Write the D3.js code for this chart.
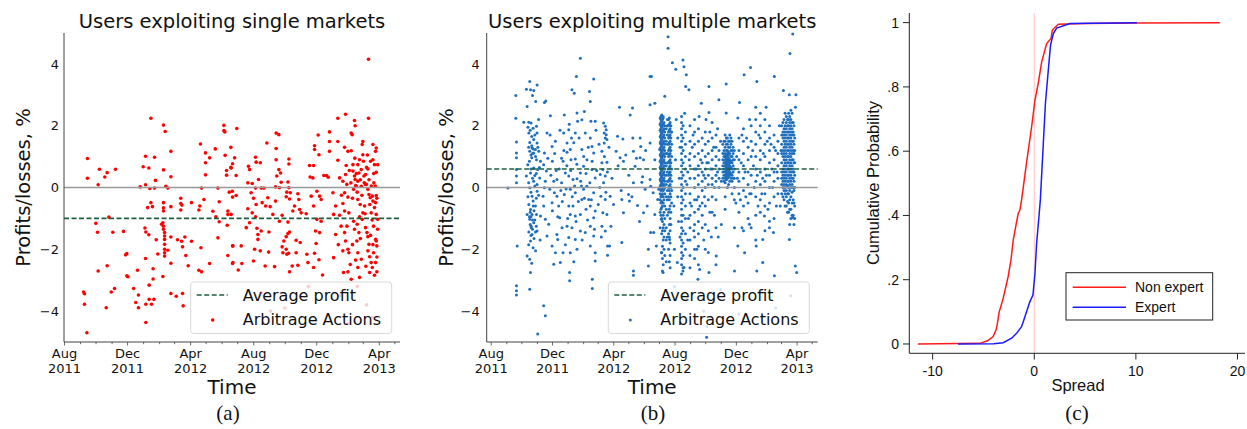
<!DOCTYPE html>
<html>
<head>
<meta charset="utf-8">
<script src="https://cdn.jsdelivr.net/npm/d3@7"></script>
<style>
  body { margin: 0; background: #fff; }
  text { fill: #111; }
</style>
</head>
<body>
<svg id="chart" width="1247" height="429"></svg>
<script>
// time is stored as months (30.44 days) after 1 Aug 2011
const startDate = new Date(2011, 7, 1);

const singlePoints = [
  [1.46,0.94],[1.46,0.30],[2.14,0.09],[2.22,0.59],[2.56,0.34],[2.71,0.48],[3.24,0.59],
  [1.99,-1.16],[2.10,-1.45],[2.82,-0.96],[3.07,-1.45],[3.75,-1.42],[2.14,-2.70],[2.71,-2.53],
  [1.21,-3.38],[1.27,-3.44],[1.27,-3.78],[1.42,-4.70],[2.65,-3.89],[2.97,-3.38],[3.18,-3.27],
  [3.88,-2.18],[3.96,-2.14],[3.96,-2.86],[4.03,-2.89],[4.39,-3.27],[4.64,-2.68],[4.70,-3.48],
  [4.53,-3.72],[4.70,-3.89],[5.17,-4.37],[5.17,-3.78],[5.38,-3.62],[5.53,-3.78],[5.68,-3.62],
  [5.38,-3.16],[5.63,-2.96],[5.63,-2.63],[5.15,-2.30],[5.93,-2.15],[6.25,-2.88],[6.76,-2.45],
  [6.76,-3.43],[7.10,-3.52],[7.50,-3.43],[7.54,-3.83],
  [5.11,-1.31],[5.17,-1.44],[5.36,-1.53],[5.83,-1.69],[6.17,-1.19],[6.25,-1.14],[6.29,-1.25],
  [6.29,-1.35],[6.36,-1.46],[6.36,-1.57],[6.36,-1.68],[6.36,-1.84],[6.36,-2.00],[6.36,-2.11],
  [6.36,-2.22],[6.57,-2.03],[6.76,-1.60],[7.18,-1.69],[7.44,-1.74],[7.50,-1.92],[7.65,-1.60],
  [7.71,-2.20],[7.86,-2.53],[8.07,-1.74],[8.67,-1.95],[8.54,-2.68],[8.71,-2.73],[9.22,-2.46],
  [9.75,-1.63],[9.83,-1.11],[10.34,-1.22],[10.38,-2.20],[10.68,-1.89],[10.68,-2.46],
  [5.49,2.24],[6.29,2.02],[6.40,1.81],[6.76,1.17],[5.15,1.01],[5.72,0.98],[5.00,0.67],[5.36,0.63],
  [6.29,0.57],[6.76,0.35],[5.78,0.23],[5.15,0.09],[4.81,0.02],[5.42,-0.03],[5.72,-0.02],[6.44,0.04],
  [6.57,-0.02],[5.49,-0.49],[5.28,-0.65],[5.59,-0.62],[6.29,-0.49],[6.29,-0.66],[6.29,-0.76],
  [6.76,-0.62],[7.39,-0.35],[7.39,-0.52],[7.46,-0.57],[7.39,-0.73],[8.07,-0.49],[8.60,-0.60],
  [8.54,-0.73],[8.86,-0.39],[9.43,-0.77],[9.62,-0.95],[9.83,-0.46],[8.64,1.41],[8.96,1.12],
  [9.22,0.96],[9.58,1.25],[8.96,0.80],[8.96,0.41],[10.21,1.04],[10.13,2.01],[10.13,1.84],
  [10.19,1.80],[10.30,0.55],[10.30,0.40],[10.57,1.30],[10.57,0.65],[10.68,0.77],[8.71,-0.02],
  [9.75,-0.02],[10.47,-0.15],[10.68,-0.31],[10.38,-0.76],[10.38,-0.87],
  [10.95,1.91],[10.81,0.96],[10.59,0.63],[10.91,0.39],[10.66,-0.12],[10.91,-0.26],[10.59,-0.87],
  [10.70,-1.89],[11.23,-1.89],[10.70,-2.43],[11.27,-2.46],[11.04,-2.67],[11.69,0.69],[11.76,0.58],
  [12.14,0.98],[12.44,0.80],[12.86,1.44],[12.18,0.82],[11.65,0.15],[11.93,0.13],[12.33,0.26],
  [12.14,-0.02],[12.50,-0.02],[12.67,-0.02],[11.86,-0.17],[12.01,-0.35],[12.18,-0.55],[12.56,-0.49],
  [12.78,-0.60],[12.92,-0.33],[13.07,-0.62],[13.24,-0.87],[13.41,-0.44],[11.65,-0.69],[11.93,-0.82],
  [12.14,-0.95],[11.76,-1.14],[12.23,-1.32],[12.29,-1.52],[12.29,-1.68],[12.50,-1.41],[12.99,-1.44],
  [11.55,-1.30],[12.08,-2.00],[12.01,-2.38],[12.44,-2.05],[12.97,-2.09],[12.75,-2.54],[13.35,-2.56],
  [13.45,1.76],[13.62,1.71],[13.45,1.26],[13.45,0.90],[13.62,0.58],[13.73,0.47],[13.49,0.37],
  [13.77,0.17],[13.41,0.02],[13.66,-0.01],[14.26,0.92],[14.26,0.76],[14.20,0.18],[14.26,-0.01],
  [14.13,-0.15],[14.35,-0.17],[14.09,-0.30],[14.30,-0.37],[14.83,-0.20],[14.89,-0.39],[14.62,-0.60],
  [14.94,-0.71],[14.51,-0.76],[15.04,-0.82],[13.83,-0.90],[13.66,-1.09],[14.20,-1.12],[14.30,-1.44],
  [14.20,-1.49],[14.09,-1.59],[13.94,-1.73],[13.83,-1.92],[13.88,-2.11],[14.09,-2.00],[14.13,-2.16],
  [14.24,-2.13],[14.72,-1.71],[14.98,-1.78],[14.72,-2.11],[14.47,-2.54],[14.83,-2.52],[14.30,-2.73],
  [15.36,-0.85],[15.40,-2.16],[15.57,0.71],[15.83,0.71],[15.61,0.34],[15.78,0.31],[15.89,1.35],
  [15.89,1.23],[16.12,1.70],[16.17,1.06],[16.84,1.80],[16.84,1.49],[16.84,1.17],[16.48,0.39],
  [16.65,0.39],[16.76,0.33],[15.68,-0.28],[16.04,-0.12],[16.21,-0.28],[16.31,-0.39],[15.83,-0.60],
  [16.04,-1.03],[16.31,-1.09],[15.95,-1.41],[16.21,-1.46],[15.99,-1.81],[15.89,-2.13],[15.47,-2.43],
  [16.17,-2.34],[15.83,-2.59],[16.40,-2.83],[17.06,-0.17],[17.23,-0.60],[17.10,-0.87],[17.23,-1.52],
  [17.10,-2.27],[17.37,2.24],[17.86,2.37],[17.37,1.49],[17.37,0.88],[17.80,1.30],[17.90,0.71],
  [18.01,1.17],[17.48,0.31],[17.69,0.20],[17.86,0.42],[17.94,0.10],[17.80,-0.17],[18.01,-0.31],
  [17.69,-0.52],[17.80,-0.76],[18.07,-0.82],[17.48,-0.90],[17.58,-1.25],[17.80,-1.46],[17.86,-1.73],
  [18.01,-2.00],[17.69,-2.05],[18.07,-2.11],[18.16,-2.49],[17.73,-2.75],[18.01,-2.73],[18.22,-2.97],
  [18.22,1.76],[18.28,1.71],[18.22,1.19],[18.33,0.74],[18.43,2.17],[18.47,2.00],[18.33,0.53],
  [18.43,0.37],[18.47,0.26],[18.50,0.06],[18.37,-0.06],[18.54,0.04],[18.64,0.20],[18.71,0.47],
  [18.64,0.74],[18.75,0.90],[18.86,0.58],[18.92,1.39],[18.96,1.49],[18.96,1.06],[19.03,0.37],
  [19.13,0.42],[19.28,0.60],[19.18,0.10],[19.28,-0.06],[19.35,-0.23],[19.43,-0.33],[19.56,-0.28],
  [19.60,-0.44],[19.77,-0.49],[19.81,-0.26],[19.60,0.90],[19.77,1.17],[19.81,1.28],[19.60,1.39],
  [19.32,2.24],[19.32,4.15],[19.70,0.74],[19.81,0.49],[18.64,-0.39],[18.79,-0.55],[18.96,-0.82],
  [18.75,-0.95],[18.60,-1.19],[18.71,-1.46],[18.58,-1.73],[18.64,-2.11],[18.86,-2.32],[18.64,-2.59],
  [18.75,-2.91],[18.37,-1.09],[18.43,-1.35],[19.13,-1.30],[19.22,-1.46],[19.28,-1.59],[19.35,-1.84],
  [19.28,-2.05],[19.39,-2.24],[19.49,-2.43],[19.56,-2.59],[19.39,-2.75],[19.77,-1.68],[19.81,-1.73],
  [19.85,-1.89],[19.64,-2.11],[19.77,-2.43],[19.85,-2.73],[19.70,-2.84],[19.13,0.10],[18.86,0.04],
  [19.66,0.15],[19.90,0.74],[19.90,-1.03],[19.64,-1.25],[19.81,-0.87],[19.49,-0.82],[19.07,-0.60],
  [18.92,-1.03],
  [18.10,0.55],[18.20,0.15],[18.30,-0.35],[18.45,0.95],[18.55,0.45],[18.60,-0.15],[18.80,0.25],
  [18.90,-0.25],[19.00,0.85],[19.05,0.15],[19.10,-0.85],[19.20,0.65],[19.25,1.05],[19.35,0.25],
  [19.40,-0.55],[19.45,0.85],[19.50,0.05],[19.55,-1.05],[19.65,0.45],[19.70,-0.65],[19.75,0.05],
  [19.85,-0.35],[19.90,-1.35],[19.85,-2.25],[19.60,-1.85],[19.45,-1.55],[19.15,-2.55],[18.80,-1.65],
  [18.50,-2.35],[18.30,-1.85],[17.95,-1.25],[17.60,-0.25],[17.40,-1.85],
  [12.5,-3.4],[14.0,-3.9],[15.5,-3.2],[16.0,-4.3],[17.5,-3.5],[18.6,-3.2],[19.2,-3.8],[19.6,-4.2],
  [13.1,-4.0],[18.0,-4.4]
];

const multiPoints = [
  [1.09,-0.02],[1.61,2.98],[1.61,2.24],[1.65,1.47],[1.65,1.12],[1.65,0.96],[1.65,0.58],[1.65,0.37],
  [1.65,0.15],[1.70,-1.89],[1.65,-3.18],[1.65,-3.34],[1.65,-3.48],
  [2.30,3.18],[2.52,3.43],[2.57,3.16],[2.70,2.98],[2.78,3.14],[3.00,3.32],[2.91,2.78],[2.35,2.62],
  [2.13,2.11],[2.46,2.11],[2.61,2.09],[2.74,1.92],[2.96,1.98],[3.00,1.76],[2.46,1.76],[2.52,1.46],
  [2.78,1.55],[3.00,1.44],[2.67,1.28],[2.89,1.23],[3.11,1.17],[2.52,1.17],[2.78,1.12],[2.65,0.96],
  [2.96,0.90],[3.22,0.85],[2.39,0.74],[2.78,0.63],[3.04,0.58],[2.57,0.47],[2.85,0.39],[2.30,0.37],
  [3.17,0.31],[2.78,0.20],[3.00,0.10],[2.52,-0.01],[3.00,-0.12],[2.67,-0.28],[2.74,-0.44],[2.46,-0.55],
  [2.89,-0.60],[2.57,-0.71],[2.35,-0.87],[2.67,-0.87],[2.96,-0.87],[2.52,-1.03],[2.78,-1.14],[2.61,-1.25],
  [2.46,-1.44],[2.89,-1.44],[2.67,-1.52],[3.00,-1.41],[2.57,-1.73],[2.74,-1.95],[2.35,-2.22],[2.52,-2.32],
  [2.57,-2.75],[2.52,-3.29],[2.60,-0.95],[2.70,-1.05],[2.62,-1.30],[2.55,-0.80],[2.80,-0.75],[2.65,1.35],
  [2.75,1.25],[2.60,1.05],
  [2.40,1.95],[2.55,1.85],[2.65,1.65],[2.85,1.70],[2.45,1.30],[2.70,1.10],[2.90,1.00],[2.50,0.85],
  [2.60,0.60],[2.95,0.45],[2.70,0.30],[2.45,0.15],[2.85,0.05],[2.60,-0.15],[2.95,-0.35],[2.40,-0.30],
  [2.75,-0.60],[2.50,-0.95],[2.85,-1.05],[2.55,-1.20],[2.95,-1.25],[2.70,-1.35],[2.60,-1.55],[2.80,-1.65],
  [2.45,-1.85],[2.90,-2.05],[2.65,-2.45],[3.10,-0.25],[3.15,0.65],[3.05,1.30],[3.20,-1.70],[3.10,2.20],
  [3.22,-0.92],[3.43,-0.60],[3.39,-0.28],[3.48,-0.01],[3.54,0.20],[3.61,0.53],[3.43,0.74],[3.48,1.12],
  [3.65,1.76],[3.48,2.75],[3.57,2.80],[3.54,-1.03],[3.76,-1.19],[3.65,-1.57],[3.98,-1.89],[3.43,-3.83],
  [3.54,-4.15],[3.04,-4.74],[3.87,2.32],[3.98,1.33],[3.83,-0.06],[4.09,0.20],[4.30,0.26],[4.13,-0.17],
  [3.98,-0.49],[4.30,-0.28],[4.41,-0.60],[4.48,-0.98],[4.30,-1.52],[4.63,-1.30],[4.20,-2.11],[4.35,-1.68],
  [4.09,-2.48],[4.52,-2.43],[4.70,-2.11],[4.74,1.76],[4.78,2.35],[4.96,1.44],[5.07,1.87],[4.70,0.85],
  [4.96,1.14],[4.85,0.47],[5.07,0.37],[5.17,1.23],[5.28,3.16],[5.43,3.05],[5.57,3.59],[5.83,4.18],
  [5.61,2.41],[5.50,1.76],[5.65,2.14],[5.22,0.90],[5.50,0.92],[5.35,0.26],[5.61,0.28],[5.17,-0.06],
  [5.50,-0.17],[4.78,-0.23],[5.07,-0.60],[5.35,-0.60],[5.17,-0.87],[5.50,-0.92],[4.96,-1.25],[5.28,-1.30],
  [5.07,-1.62],[5.50,-1.68],[5.17,-2.11],[5.61,-2.00],[5.13,-2.75],[5.13,-3.02],[5.83,-0.87],[5.93,-0.39],
  [6.04,-0.06],[5.83,0.47],[6.04,0.69],[5.93,1.23],[6.15,1.76],[5.93,2.19],[6.09,2.46],[5.83,-1.41],
  [6.15,-1.46],[6.37,-0.39],[6.43,3.11],[6.48,2.78],[6.70,3.51],[6.52,2.14],[6.80,2.14],[6.48,1.60],
  [6.59,1.33],[6.70,1.12],[6.26,0.90],[6.59,0.58],[6.80,0.31],[6.26,0.04],[6.70,-0.17],[6.48,-0.60],
  [6.80,-0.76],[6.70,-0.98],[6.48,-1.25],[6.70,-1.57],[6.48,-1.89],[6.80,-2.11],[6.80,-2.38],[6.61,-2.97],
  [6.61,-3.27],[4.45,0.60],[4.60,0.95],[4.20,1.50],[4.00,0.85],[3.85,1.70],[4.55,-0.10],[5.25,1.60],
  [5.90,0.05],[6.20,-0.70],[4.85,-1.85],[5.40,-2.40],
  [3.70,0.95],[3.90,0.40],[4.00,-0.75],[4.15,1.10],[4.25,0.55],[4.35,-0.95],[4.50,1.85],[4.60,0.15],
  [4.65,-0.45],[4.75,1.20],[4.90,-0.05],[4.95,0.70],[5.00,-1.00],[5.10,2.05],[5.20,0.55],[5.30,-0.30],
  [5.40,1.45],[5.45,0.05],[5.55,-1.10],[5.60,0.75],[5.70,-0.45],[5.75,1.60],[5.85,0.20],[5.95,-1.70],
  [6.05,1.00],[6.10,-0.35],[6.20,0.45],[6.30,-1.05],[6.35,1.30],[6.45,0.15],[6.55,-0.40],[6.60,0.85],
  [6.75,-1.35],[6.85,1.85],[6.90,0.55],[7.00,-0.55],[7.05,1.40],[7.10,0.00],[7.20,-1.60],[7.40,1.00],
  [7.50,-0.15],[7.60,0.50],[7.70,1.30],[7.90,0.30],[8.00,-0.55],[8.30,0.70],[8.50,-0.10],[8.80,1.05],
  [9.00,0.40],[9.20,-0.30],[9.50,0.95],[9.70,-1.10],[9.90,0.35],[10.10,1.20],[10.20,-0.60],
  [7.35,2.09],[7.46,1.98],[7.52,1.87],[7.39,1.76],[7.52,1.71],[7.46,1.60],[7.57,1.55],[7.39,1.44],
  [7.24,1.17],[7.24,0.80],[7.57,0.82],[7.30,0.58],[7.13,0.42],[7.46,0.37],[7.35,0.15],[7.17,-0.28],
  [7.46,-0.39],[7.30,-0.82],[7.57,-0.87],[7.24,-1.25],[7.46,-1.41],[7.61,-1.89],[7.74,-1.89],[7.61,-2.19],
  [7.83,-1.25],[7.78,-0.28],[8.17,1.17],[8.26,1.66],[8.39,2.60],[8.61,1.57],[8.43,0.96],[8.65,0.85],
  [8.54,-0.39],[8.65,-0.82],[8.54,-1.78],[9.09,2.35],[9.24,2.57],[9.30,1.17],[9.26,1.60],[9.41,0.69],
  [9.30,0.15],[8.98,-0.23],[9.04,-0.44],[9.30,-2.70],[9.30,-2.84],[9.57,-0.58],[9.74,1.60],[9.78,1.33],
  [9.74,0.96],[9.85,0.17],[9.96,-0.82],[10.07,-0.06],[9.96,0.90],[10.28,-2.00],[10.28,-2.54],[10.39,3.59],
  [10.39,2.68],[10.39,1.44],[10.39,0.26],[10.43,0.04],[10.43,-1.46],
  [10.48,3.59],[10.70,2.73],[10.70,0.90],[10.59,-0.17],[10.70,-0.87],[10.63,-1.46],[10.80,-1.89],
  [10.89,-0.39],[10.96,-0.06],[11.02,1.23],[11.13,-1.03],[11.13,-2.11],[11.24,-2.75],[11.35,2.95],
  [11.24,2.30],[11.57,4.88],[11.57,4.51],[11.85,4.04],[12.07,3.83],[12.54,4.13],[12.61,3.91],
  [12.76,3.65],[12.72,3.27],[12.93,3.16],[14.24,3.27],[15.37,3.35],[16.96,3.88],[16.54,3.65],
  [17.37,3.43],[18.52,3.59],[19.11,3.14],[19.72,4.97],[19.54,4.34],[19.50,3.00],[19.93,3.00],
  [14.89,2.84],[16.24,2.75],[13.74,2.73],[17.98,2.60],[14.24,2.43],[15.37,2.41],[16.13,2.25],
  [11.67,-1.68],[11.98,-2.00],[12.17,-2.43],[12.54,-2.70],[12.61,-2.59],[13.52,-2.97],[13.63,-2.65],
  [14.24,-2.75],[14.72,-2.22],[15.91,-1.30],[16.13,-1.89],[15.91,-2.70],[16.57,-2.11],[16.89,-1.19],
  [17.33,-1.89],[17.37,-2.70],[17.76,-1.68],[17.87,-0.92],[17.76,-2.43],[18.20,-1.09],[18.46,-1.46],
  [18.52,-2.86],[19.50,-1.68],[19.72,-0.92],[19.72,-0.98],[19.89,-2.54],[19.98,-2.75],[14.09,-4.85],
  [12.0,-3.2],[12.8,-3.6],[13.9,-4.0],[14.1,-4.5],[15.0,-3.3],[16.2,-4.1],[17.5,-3.4],[18.6,-3.9],
  [19.6,-3.5],[12.05,0.9],[12.2,1.6],[12.3,0.3],[11.95,-0.6],[12.25,-1.1],[12.85,0.5],[12.9,-1.0],
  [13.15,1.3],[13.45,-0.4],[13.7,0.9],[13.95,-0.3],[14.35,0.6],[14.6,-0.9],[14.8,1.9],[16.0,-0.5],
  [16.35,0.8],[16.65,-0.3],[17.15,0.7],[17.45,-0.6],[17.75,0.3],[18.05,1.5],[18.35,0.6],[18.65,-0.6],
  [18.85,2.0],[16.9,2.2],[15.05,-1.2],[16.4,-1.3],[19.9,2.6],
  [12.1,2.2],[12.2,-0.3],[12.35,1.3],[12.35,-1.6],[12.65,2.4],[12.8,0.1],[12.85,-1.7],[12.95,0.9],
  [13.1,-0.6],[13.2,1.7],[13.25,-1.4],[13.4,0.6],[13.45,-2.0],[13.6,2.3],[13.65,-0.6],[13.9,0.4],
  [13.9,-1.7],[14.05,2.2],[14.1,0.8],[14.3,1.8],[14.3,-0.8],[14.4,-1.6],[14.55,1.3],[14.6,0.0],
  [14.8,0.5],[14.85,-1.6],[15.0,1.5],[15.05,0.2],[16.05,1.0],[16.1,0.3],[16.3,-0.4],[16.4,1.7],
  [16.6,0.5],[16.7,1.6],[16.9,-0.2],[17.1,1.2],[17.2,0.0],[17.4,0.4],[17.5,1.7],[17.7,-0.2],
  [17.8,1.1],[18.0,0.4],[18.1,-0.7],[18.3,1.4],[18.4,0.0],[18.6,1.2],[18.7,0.5],[18.9,-0.6],[18.95,1.2]
];

// dense vertical bands in the multiple-markets panel
const multiColumns = [
  [11.05, [2.25,2.05,1.85,1.65,1.45,1.25,1.05,0.85,0.65,0.45,0.25,0.05,-0.2,-0.4,-0.8,-1.3]],
  [11.10, [2.3,2.2,2.1,2.0,1.9,1.8,1.7,1.6,1.5,1.4,1.3,1.2,1.1,1.0,0.9,0.8,0.7,0.6,0.5,0.4,0.3,0.2,0.1,0.0,-0.1,-0.3,-0.5,-0.7,-0.9]],
  [11.15, [2.35,2.15,1.95,1.75,1.55,1.35,1.15,0.95,0.75,0.55,0.35,0.15,-0.05,-0.25,-0.45,-0.65,-1.0,-1.5,-2.1]],
  [11.20, [2.2,2.0,1.8,1.6,1.4,1.2,1.0,0.8,0.6,0.4,0.2,0.05,-0.2,-0.6,-1.1,-1.4,-1.9,-2.3,-2.7]],
  [11.25, [2.25,2.05,1.85,1.65,1.45,1.25,1.05,0.85,0.65,0.45,0.25,0.1,-0.1,-0.3,-0.5,-0.9,-1.3,-1.7,-2.5]],
  [11.30, [2.1,1.9,1.7,1.5,1.3,1.1,0.9,0.7,0.5,0.3,0.1,-0.05,-0.4,-0.8,-1.2,-1.6,-2.0]],
  [11.35, [2.0,1.8,1.6,1.4,1.2,1.0,0.8,0.6,0.4,0.2,0.0,-0.2,-0.6,-1.0,-1.4,-2.2]],
  [11.45, [1.9,1.5,1.1,0.7,0.4,0.1,-0.3,-0.7,-1.3,-1.7,-2.4]],
  [11.52, [2.2,2.0,1.7,1.4,1.1,0.8,0.5,0.2,-0.1,-0.4,-0.9,-1.6]],
  [11.60, [2.2,2.0,1.8,1.6,1.4,1.2,1.0,0.8,0.6,0.4,0.2,0.0,-0.3,-0.8,-1.5,-2.0]],
  [11.65, [2.25,2.05,1.85,1.65,1.45,1.25,1.05,0.85,0.65,0.45,0.25,0.05,-0.1,-0.4,-0.7,-1.2,-1.6,-2.4]],
  [11.70, [2.1,1.9,1.7,1.5,1.3,1.1,0.9,0.7,0.5,0.3,0.1,-0.2,-0.6,-1.0,-1.4,-1.8,-2.2,-2.6]],
  [11.75, [2.0,1.8,1.6,1.2,0.8,0.4,0.0,-0.3,-0.8,-1.2]],
  [11.80, [1.8,1.4,1.0,0.6,0.2,-0.1,-0.5]],
  [12.45, [2.3,2.1,1.9,1.7,1.5,1.3,1.1,0.9,0.7,0.5,0.3,0.1,-0.1,-0.3,-0.5,-0.7,-0.9,-1.1,-1.3,-1.5,-1.7,-1.9,-2.1,-2.3,-2.5,-2.8]],
  [12.55, [2.0,1.6,1.2,0.8,0.4,0.0,-0.4,-0.9,-1.4,-1.8,-2.2,-2.6]],
  [12.70, [1.8,1.4,1.0,0.6,0.2,-0.2,-0.6,-1.0,-1.5,-2.0]],
  [13.00, [2.0,1.5,1.1,0.7,0.3,-0.2,-0.5,-0.9,-1.3,-1.7,-2.2,-2.6]],
  [13.30, [2.2,1.8,1.4,1.0,0.6,0.3,0.0,-0.4,-0.8,-1.2,-1.6,-2.0,-2.3]],
  [13.55, [1.9,1.5,1.1,0.7,0.4,0.1,-0.3,-0.7,-1.1,-1.5,-1.9,-2.5]],
  [13.80, [1.6,1.2,0.8,0.5,0.2,-0.1,-0.5,-0.9,-1.3]],
  [14.00, [1.8,1.4,1.0,0.6,0.3,0.0,-0.6,-1.2,-2.0]],
  [14.20, [1.5,1.1,0.8,0.4,0.1,-0.4,-1.4,-2.1]],
  [14.45, [2.1,1.6,1.2,0.9,0.6,0.3,0.1,-0.3,-0.8]],
  [14.70, [1.7,1.3,1.0,0.7,0.4,0.2,-0.4,-1.3,-2.5]],
  [14.90, [1.2,0.9,0.6,0.3,0.0]],
  [15.15, [1.4,1.1,0.9,0.7,0.5,0.3]],
  [15.22, [1.5,1.2,1.0,0.8,0.6,0.4,0.2]],
  [15.30, [1.7,1.5,1.3,1.1,1.0,0.9,0.8,0.7,0.6,0.5,0.4,0.3,0.15,-0.3,-0.7]],
  [15.38, [1.6,1.4,1.2,1.05,0.95,0.85,0.75,0.65,0.55,0.45,0.35,0.25]],
  [15.45, [1.6,1.4,1.2,1.1,1.0,0.9,0.8,0.7,0.6,0.5,0.4,0.3,0.0]],
  [15.52, [1.5,1.3,1.15,1.05,0.95,0.85,0.75,0.65,0.55,0.45,0.35,0.1]],
  [15.60, [1.7,1.5,1.3,1.1,0.9,0.8,0.7,0.6,0.5,0.4,0.2]],
  [15.68, [1.6,1.4,1.2,1.0,0.85,0.65,0.45,0.3]],
  [15.75, [1.5,1.2,1.0,0.8,0.6,0.4,0.2,-0.2]],
  [15.82, [1.3,1.1,0.9,0.7,0.5,0.3]],
  [15.90, [1.2,0.9,0.6,0.3,0.0,-0.4]],
  [16.20, [1.6,1.2,0.9,0.5,0.2,-0.2,-0.8]],
  [16.50, [1.9,1.5,1.1,0.7,0.3,-0.1,-0.6,-1.4]],
  [16.80, [1.3,0.9,0.5,0.1,-0.5,-1.0]],
  [17.00, [2.0,1.5,1.0,0.4,-0.2,-1.3]],
  [17.30, [2.6,2.2,1.8,1.4,1.0,0.6,0.2,-0.3,-0.9,-1.7]],
  [17.60, [2.4,2.0,1.6,1.2,0.9,0.5,0.1,-0.4,-0.8]],
  [17.90, [2.2,1.8,1.4,1.0,0.6,0.2,-0.2,-0.6,-1.4]],
  [18.20, [2.0,1.6,1.2,0.8,0.4,0.0,-0.5,-1.3]],
  [18.50, [1.7,1.3,0.9,0.5,0.2,-0.3,-1.0]],
  [18.75, [1.5,1.1,0.7,0.3,-0.2]],
  [19.00, [2.0,1.7,1.4,1.1,0.8,0.5,0.3,0.1,-0.2]],
  [19.08, [2.1,1.8,1.6,1.2,1.0,0.6,0.4,0.2,0.0,-0.3]],
  [19.15, [2.2,1.9,1.7,1.5,1.3,1.1,0.9,0.7,0.5,0.3,0.1,-0.1,-0.4]],
  [19.22, [2.4,2.0,1.8,1.6,1.4,1.2,1.0,0.8,0.6,0.4,0.2,0.0,-0.2,-0.6]],
  [19.30, [2.3,2.1,1.9,1.7,1.5,1.3,1.1,0.9,0.7,0.5,0.3,0.1,-0.1,-0.3,-0.6]],
  [19.38, [2.2,2.0,1.8,1.6,1.4,1.2,1.0,0.8,0.6,0.4,0.2,0.05,-0.2,-0.45,-0.8]],
  [19.45, [2.4,2.2,2.0,1.8,1.6,1.4,1.2,1.0,0.8,0.6,0.4,0.2,0.0,-0.2,-0.5,-0.8]],
  [19.52, [2.3,2.1,1.9,1.7,1.5,1.3,1.1,0.9,0.7,0.5,0.3,0.1,-0.1,-0.4,-0.7,-1.2]],
  [19.60, [2.5,2.2,2.0,1.8,1.6,1.4,1.2,1.0,0.8,0.6,0.4,0.2,0.0,-0.3,-0.7,-1.0]],
  [19.68, [2.4,2.1,1.9,1.7,1.5,1.3,1.1,0.9,0.7,0.5,0.3,0.1,-0.15,-0.5,-0.9]],
  [19.75, [2.1,1.8,1.5,1.2,0.9,0.6,0.3,0.0,-0.4,-0.9]],
  [19.80, [2.0,1.7,1.4,1.1,0.8,0.5,0.2,-0.1,-0.5,-1.2]],
  [19.85, [1.6,1.2,0.8,0.4,0.0,-0.6,-1.0]]
];

const avgSingle = -1.0;
const avgMulti = 0.6;
const profitTicks = [-4, -2, 0, 2, 4];

// cumulative distribution of spread
const cdfNonExpert = [
  [-11.45,0],[-5.36,0.002],[-4.6,0.01],[-4.05,0.023],[-3.75,0.045],[-3.65,0.06],[-3.45,0.10],
  [-3.06,0.142],[-2.57,0.21],[-2.3,0.26],[-2.07,0.323],[-1.8,0.37],[-1.58,0.406],[-1.41,0.417],
  [-1.25,0.448],[-0.8,0.555],[-0.26,0.676],[0.07,0.759],[0.39,0.811],[0.73,0.878],[1.22,0.935],
  [1.65,0.951],[1.78,0.977],[2.37,0.995],[5,0.997],[10,0.999],[18.26,1]
];
const cdfExpert = [
  [-7.5,0],[-4,0.001],[-3.06,0.004],[-2.23,0.018],[-1.74,0.033],[-1.25,0.054],[-0.92,0.085],
  [-0.43,0.132],[-0.13,0.152],[0.07,0.22],[0.23,0.313],[0.46,0.396],[0.6,0.45],[0.89,0.624],
  [1.1,0.75],[1.38,0.852],[1.6,0.93],[1.88,0.966],[2.2,0.983],[3.52,0.997],[10.1,1]
];
const cdfXTicks = [-10, 0, 10, 20];
const cdfYTicks = [0, 0.2, 0.4, 0.6, 0.8, 1];
const cdfYLabels = ["0", ".2", ".4", ".6", ".8", "1"];

const svg = d3.select("#chart");
const toDate = m => new Date(+startDate + m * 30.44 * 864e5);

function drawScatter(opt) {
  const g = svg.append("g").style("font-family", "'DejaVu Sans', sans-serif");
  const x = d3.scaleTime().domain(opt.dates).range([opt.left, opt.right]);
  const y = d3.scaleLinear().domain([-5, 5]).range([opt.bottom, opt.top]);

  const pts = opt.points.slice();
  (opt.columns || []).forEach(c => c[1].forEach(v => pts.push([c[0], v])));

  g.selectAll(".dot")
    .data(pts)
    .enter()
    .append("circle")
    .attr("cx", d => x(toDate(d[0])))
    .attr("cy", d => y(d[1]))
    .attr("r", opt.r)
    .style("fill", opt.color);

  // reference lines
  g.append("line")
    .attr("x1", opt.left).attr("x2", opt.right)
    .attr("y1", y(0)).attr("y2", y(0))
    .style("stroke", "#999").style("stroke-width", 1.6);
  g.append("line")
    .attr("x1", opt.left).attr("x2", opt.right)
    .attr("y1", y(opt.avg)).attr("y2", y(opt.avg))
    .style("stroke", "#1f5f3f").style("stroke-width", 1.6).style("stroke-dasharray", "5,2.5");

  // spines
  g.append("line").attr("x1", opt.left).attr("x2", opt.left).attr("y1", opt.top).attr("y2", opt.bottom)
    .style("stroke", "#444").style("stroke-width", 1);
  g.append("line").attr("x1", opt.left).attr("x2", opt.right).attr("y1", opt.bottom).attr("y2", opt.bottom)
    .style("stroke", "#444").style("stroke-width", 1);

  // y tick labels
  g.selectAll(".ylab")
    .data(profitTicks)
    .enter()
    .append("text")
    .attr("x", opt.left - opt.labelPad)
    .attr("y", d => y(d))
    .attr("dy", "0.36em")
    .attr("text-anchor", "end")
    .style("font-size", "13px")
    .text(d => d < 0 ? "\u2212" + Math.abs(d) : d);

  // monthly ticks, labelled every four months
  const months = d3.timeMonth.range(new Date(2011, 7, 1), new Date(2013, 4, 2));
  g.selectAll(".xtick")
    .data(months)
    .enter()
    .append("line")
    .attr("x1", d => x(d)).attr("x2", d => x(d))
    .attr("y1", opt.bottom)
    .attr("y2", d => opt.bottom + ((d.getMonth() % 4 === 3) ? 3.5 : 2.2))
    .style("stroke", "#444").style("stroke-width", 0.8);
  const majors = months.filter(d => d.getMonth() % 4 === 3);
  const fmtM = d3.timeFormat("%b"), fmtY = d3.timeFormat("%Y");
  const lab = g.selectAll(".xlab")
    .data(majors)
    .enter()
    .append("text")
    .attr("text-anchor", "middle")
    .style("font-size", "13px");
  lab.append("tspan").attr("x", d => x(d)).attr("y", opt.bottom + 16).text(fmtM);
  lab.append("tspan").attr("x", d => x(d)).attr("y", opt.bottom + 30.5).text(fmtY);

  const cx = (opt.left + opt.right) / 2;
  g.append("text").attr("x", cx).attr("y", 28).attr("text-anchor", "middle")
    .style("font-size", "19.5px").text(opt.title);
  g.append("text").attr("x", cx).attr("y", 394).attr("text-anchor", "middle")
    .style("font-size", "20px").text("Time");
  g.append("text")
    .attr("transform", `translate(${opt.ylabX},${(opt.top + opt.bottom) / 2}) rotate(-90)`)
    .attr("text-anchor", "middle")
    .style("font-size", "19.5px")
    .text("Profits/losses, %");

  // legend
  const lg = g.append("g").attr("transform", `translate(${opt.legX},282)`);
  lg.append("rect").attr("width", 201).attr("height", 51.5).attr("rx", 3)
    .style("fill", "#fff").style("fill-opacity", 0.8).style("stroke", "#d8d8d8");
  lg.append("line").attr("x1", 6).attr("x2", 37).attr("y1", 13).attr("y2", 13)
    .style("stroke", "#1f5f3f").style("stroke-width", 1.6).style("stroke-dasharray", "5,2.5");
  lg.append("circle").attr("cx", 22).attr("cy", 38).attr("r", opt.r).style("fill", opt.color);
  lg.append("text").attr("x", 52).attr("y", 18.5).style("font-size", "16px").text("Average profit");
  lg.append("text").attr("x", 52).attr("y", 42.5).style("font-size", "16px").text("Arbitrage Actions");

  svg.append("text").attr("x", opt.capX).attr("y", 420).attr("text-anchor", "middle")
    .style("font-family", "'Liberation Serif', serif").style("font-size", "21px").text(opt.caption);
}

drawScatter({
  left: 64, right: 400, top: 33, bottom: 342,
  dates: [new Date(2011, 6, 31), new Date(2013, 4, 11)],
  points: singlePoints, color: "#ff0000", r: 1.8, avg: avgSingle,
  title: "Users exploiting single markets", ylabX: 30, labelPad: 5,
  legX: 190.7, capX: 228, caption: "(a)"
});
drawScatter({
  left: 486.7, right: 817.7, top: 33, bottom: 342,
  dates: [new Date(2011, 6, 23), new Date(2013, 4, 12)],
  points: multiPoints, columns: multiColumns, color: "#1f6fbd", r: 1.5, avg: avgMulti,
  title: "Users exploiting multiple markets", ylabX: 453, labelPad: 7,
  legX: 608.3, capX: 653, caption: "(b)"
});

// panel (c)
const gc = svg.append("g").style("font-family", "'Liberation Sans', Arial, sans-serif");
const cx = d3.scaleLinear().domain([-12.3, 20.74]).range([909.3, 1245]);
const cy = d3.scaleLinear().domain([-0.029, 1.03]).range([353.3, 13]);

gc.append("line").attr("x1", cx(0)).attr("x2", cx(0)).attr("y1", cy(1.03)).attr("y2", cy(-0.029))
  .style("stroke", "#ffc4c4").style("stroke-width", 1);

const line = d3.line().x(d => cx(d[0])).y(d => cy(d[1]));
gc.append("path").datum(cdfNonExpert).attr("d", line)
  .style("fill", "none").style("stroke", "#ff1a1a").style("stroke-width", 1.5);
gc.append("path").datum(cdfExpert).attr("d", line)
  .style("fill", "none").style("stroke", "#1a1aff").style("stroke-width", 1.5);

gc.append("line").attr("x1", 909.3).attr("x2", 909.3).attr("y1", 13).attr("y2", 353.3)
  .style("stroke", "#222").style("stroke-width", 1);
gc.append("line").attr("x1", 909.3).attr("x2", 1245).attr("y1", 353.3).attr("y2", 353.3)
  .style("stroke", "#222").style("stroke-width", 1);

gc.selectAll(".cyt").data(cdfYTicks).enter().append("line")
  .attr("x1", 903).attr("x2", 909.3).attr("y1", d => cy(d)).attr("y2", d => cy(d))
  .style("stroke", "#222");
gc.selectAll(".cyl").data(cdfYTicks).enter().append("text")
  .attr("x", 899).attr("y", d => cy(d)).attr("dy", "0.36em").attr("text-anchor", "end")
  .style("font-size", "14px").text((d, i) => cdfYLabels[i]);
gc.selectAll(".cxt").data(cdfXTicks).enter().append("line")
  .attr("x1", d => cx(d)).attr("x2", d => cx(d)).attr("y1", 353.3).attr("y2", 359.5)
  .style("stroke", "#222");
gc.selectAll(".cxl").data(cdfXTicks).enter().append("text")
  .attr("x", d => cx(d)).attr("y", 375.7).attr("text-anchor", "middle")
  .style("font-size", "14px").text(d => d);

gc.append("text").attr("x", 1078).attr("y", 390.5).attr("text-anchor", "middle")
  .style("font-size", "16.5px").text("Spread");
gc.append("text").attr("transform", "translate(879,183) rotate(-90)").attr("text-anchor", "middle")
  .style("font-size", "16.5px").text("Cumulative Probability");

const lc = gc.append("g").attr("transform", "translate(1066,272.7)");
lc.append("rect").attr("width", 146.7).attr("height", 47.3)
  .style("fill", "#fff").style("stroke", "#222").style("stroke-width", 1);
lc.append("line").attr("x1", 6.7).attr("x2", 60).attr("y1", 14.6).attr("y2", 14.6)
  .style("stroke", "#ff1a1a").style("stroke-width", 1.5);
lc.append("line").attr("x1", 6.7).attr("x2", 60).attr("y1", 34.6).attr("y2", 34.6)
  .style("stroke", "#1a1aff").style("stroke-width", 1.5);
lc.append("text").attr("x", 69).attr("y", 19.8).style("font-size", "14px").text("Non expert");
lc.append("text").attr("x", 69).attr("y", 39.8).style("font-size", "14px").text("Expert");

svg.append("text").attr("x", 1077).attr("y", 420).attr("text-anchor", "middle")
  .style("font-family", "'Liberation Serif', serif").style("font-size", "21px").text("(c)");
</script>
</body>
</html>
